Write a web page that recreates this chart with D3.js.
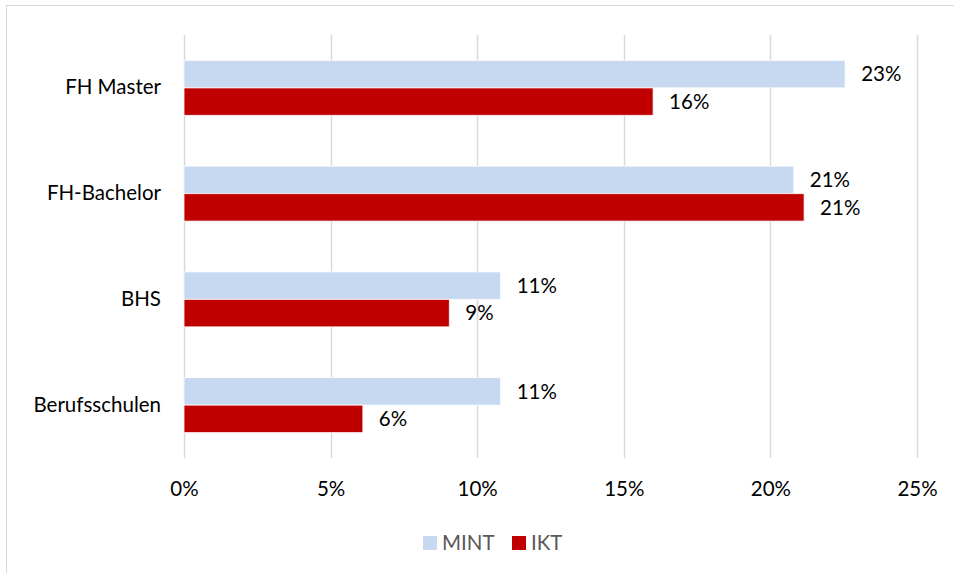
<!DOCTYPE html>
<html>
<head>
<meta charset="utf-8">
<script src="https://cdn.jsdelivr.net/npm/d3@7/dist/d3.min.js"></script>
<style>
  html, body { margin: 0; padding: 0; background: #fff; }
  svg { display: block; }
  text { font-family: Lato, "Open Sans", sans-serif; }
</style>
</head>
<body>
<svg id="chart" width="954" height="573"></svg>
<script>
const categories = ["FH Master", "FH-Bachelor", "BHS", "Berufsschulen"];
const seriesNames = ["MINT", "IKT"];
const mintValues = [22.55, 20.8, 10.8, 10.8];
const iktValues = [16.0, 21.15, 9.05, 6.1];
const xTicks = [0, 5, 10, 15, 20, 25];
const colors = ["#C6D9F0", "#C00000"];

const FS = 20.5;
const svg = d3.select("#chart");
const W = 954, H = 573;
const plot = { left: 184, right: 917, top: 35, bottom: 458 };

// outer border (chart area frame)
svg.append("rect")
  .attr("x", 6.5).attr("y", 5.5)
  .attr("width", W + 10).attr("height", H + 10)
  .attr("fill", "#fff").attr("stroke", "#D9D9D9").attr("stroke-width", 1);

const x = d3.scaleLinear().domain([0, 25]).range([plot.left, plot.right]);
const y = d3.scaleBand().domain(categories).range([plot.top, plot.bottom])
  .paddingInner(0.48).paddingOuter(0.24);
const ySub = d3.scaleBand().domain(seriesNames).range([0, y.bandwidth()]);

// gridlines
svg.append("g").selectAll("line").data(xTicks).join("line")
  .attr("x1", d => Math.round(x(d)) + 0.5).attr("x2", d => Math.round(x(d)) + 0.5)
  .attr("y1", plot.top).attr("y2", plot.bottom)
  .attr("stroke", "#D9D9D9").attr("stroke-width", 1.5);

// x axis labels
const xAxis = d3.axisBottom(x).tickValues(xTicks).tickFormat(d => d + "%").tickSize(0).tickPadding(0);
const gx = svg.append("g").attr("transform", `translate(0,${plot.bottom + 23})`).call(xAxis);
gx.select(".domain").remove();
gx.selectAll("text").attr("font-family", "Lato, 'Open Sans', sans-serif")
  .attr("font-size", FS).attr("fill", "#000").attr("dy", "0.71em");

// y axis labels
const yAxis = d3.axisLeft(y).tickSize(0).tickPadding(0);
const gy = svg.append("g").attr("transform", `translate(161,0)`).call(yAxis);
gy.select(".domain").remove();
gy.selectAll("text").attr("font-family", "Lato, 'Open Sans', sans-serif")
  .attr("font-size", FS).attr("fill", "#000");

const data = categories.map((c, i) => ({ cat: c, values: [
  { s: "MINT", v: mintValues[i] }, { s: "IKT", v: iktValues[i] } ] }));

const groups = svg.append("g").selectAll("g").data(data).join("g")
  .attr("transform", d => `translate(0,${y(d.cat)})`);

groups.selectAll("rect").data(d => d.values).join("rect")
  .attr("x", x(0)).attr("y", d => ySub(d.s))
  .attr("width", d => x(d.v) - x(0)).attr("height", ySub.bandwidth())
  .attr("fill", (d, i) => colors[i])
  .attr("stroke", "rgba(255,255,255,0.8)").attr("stroke-width", 1);

groups.selectAll("text").data(d => d.values).join("text")
  .attr("x", d => x(d.v) + 16).attr("y", d => ySub(d.s) + ySub.bandwidth() / 2)
  .attr("dy", "0.35em").attr("font-size", FS).attr("fill", "#000")
  .text(d => Math.round(d.v) + "%");

// legend
const legend = svg.append("g").attr("transform", "translate(423,536)");
const items = [{ n: "MINT", c: colors[0], x: 0 }, { n: "IKT", c: colors[1], x: 89 }];
const li = legend.selectAll("g").data(items).join("g").attr("transform", d => `translate(${d.x},0)`);
li.append("rect").attr("width", 14).attr("height", 14).attr("fill", d => d.c);
li.append("text").attr("x", 19).attr("y", 7).attr("dy", "0.35em")
  .attr("font-size", FS).attr("fill", "#595959").text(d => d.n);
</script>
</body>
</html>
